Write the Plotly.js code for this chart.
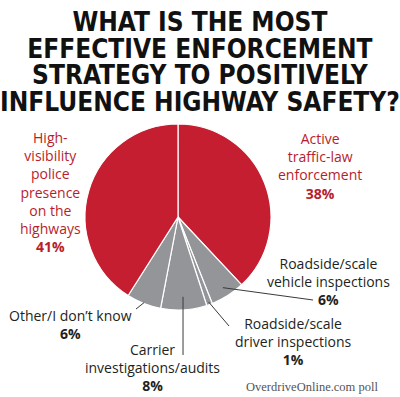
<!DOCTYPE html>
<html>
<head>
<meta charset="utf-8">
<script src="https://cdn.plot.ly/plotly-3.0.1.min.js"></script>
<style>html,body{margin:0;padding:0;background:#fff;}#chart{width:400px;height:397px;}</style>
</head>
<body>
<div id="chart"></div>
<script>
// ---- data ----
const categories = [
  "Active traffic-law enforcement",
  "Roadside/scale vehicle inspections",
  "Roadside/scale driver inspections",
  "Carrier investigations/audits",
  "Other/I don\u2019t know",
  "High-visibility police presence on the highways"
];
const values = [38, 6, 1, 8, 6, 41];
const labelLines = [
  ["Active", "traffic-law", "enforcement"],
  ["Roadside/scale", "vehicle inspections"],
  ["Roadside/scale", "driver inspections"],
  ["Carrier", "investigations/audits"],
  ["Other/I don\u2019t know"],
  ["High-", "visibility", "police", "presence", "on the", "highways"]
];
const titleLines = [
  "WHAT IS THE MOST",
  "EFFECTIVE ENFORCEMENT",
  "STRATEGY TO POSITIVELY",
  "INFLUENCE HIGHWAY SAFETY?"
];
const sourceNote = "OverdriveOnline.com poll";

// ---- styling / layout ----
const W = 400, H = 397;
const RED = "#C41E30", GRAY = "#939598";
const sliceColors = [RED, GRAY, GRAY, GRAY, GRAY, RED];
const textColors = ["#B81D2C", "#231F20", "#231F20", "#231F20", "#231F20", "#B81D2C"];
const cx = 178, cy = 217, R = 93;
// label block centers (px) and leader line settings
const labelPos = [
  {x: 320, y: 166},
  {x: 328, y: 281},
  {x: 293, y: 341},
  {x: 152, y: 367},
  {x: 70,  y: 324},
  {x: 50,  y: 192}
];
const leaders = [
  null,
  {r: 0.9, end: [313, 300]},
  {r: 0.97, end: [229, 326]},
  {r: 0.86, end: [null, 355]},
  {r: 0.99, end: [136, 309]},
  null
];

const px = x => x / W;
const py = y => 1 - y / H;

const total = values.reduce((a, b) => a + b, 0);
let cum = 0;
const shapes = [];
values.forEach((v, i) => {
  const mid = (cum + v / 2) / total * 2 * Math.PI;
  cum += v;
  const L = leaders[i];
  if (!L) return;
  const sx = cx + R * L.r * Math.sin(mid);
  const sy = cy - R * L.r * Math.cos(mid);
  const ex = L.end[0] === null ? sx : L.end[0];
  const ey = L.end[1];
  shapes.push({type: "line", xref: "paper", yref: "paper",
    x0: px(sx), y0: py(sy), x1: px(ex), y1: py(ey),
    line: {color: "#3a3a3a", width: 1}});
});

const annotations = [];
// title: one text block; line pitch comes from the base size, glyphs from the span size
annotations.push({xref: "paper", yref: "paper", x: 0.5, y: py(61.75),
  xanchor: "center", yanchor: "middle", showarrow: false, align: "center",
  text: titleLines.map(t => '<span style="font-size:26px">' + t + '</span>').join("<br>"),
  font: {family: "DejaVu Sans Condensed", size: 20.4, color: "#111", weight: 700}});
labelLines.forEach((lines, i) => {
  const txt = lines.join("<br>") + "<br><b>" + values[i] + "%</b>";
  annotations.push({xref: "paper", yref: "paper", x: px(labelPos[i].x), y: py(labelPos[i].y),
    xanchor: "center", yanchor: "middle", showarrow: false, align: "center", text: txt,
    font: {family: "Open Sans", size: 14, color: textColors[i]}});
});
annotations.push({xref: "paper", yref: "paper", x: px(380), y: py(387),
  xanchor: "right", yanchor: "middle", showarrow: false, text: sourceNote,
  font: {family: "Liberation Serif", size: 12.5, color: "#555"}});

const trace = {
  type: "pie",
  labels: categories,
  values: values,
  sort: false,
  direction: "clockwise",
  rotation: 0,
  textinfo: "none",
  hoverinfo: "label+percent",
  marker: {colors: sliceColors, line: {color: "#fff", width: 1.2}},
  domain: {x: [px(cx - R), px(cx + R)], y: [py(cy + R), py(cy - R)]},
  showlegend: false
};

Plotly.newPlot("chart", [trace], {
  width: W, height: H,
  margin: {l: 0, r: 0, t: 0, b: 0},
  paper_bgcolor: "#fff",
  showlegend: false,
  annotations: annotations,
  shapes: shapes
}, {displayModeBar: false, staticPlot: true});
</script>
</body>
</html>
